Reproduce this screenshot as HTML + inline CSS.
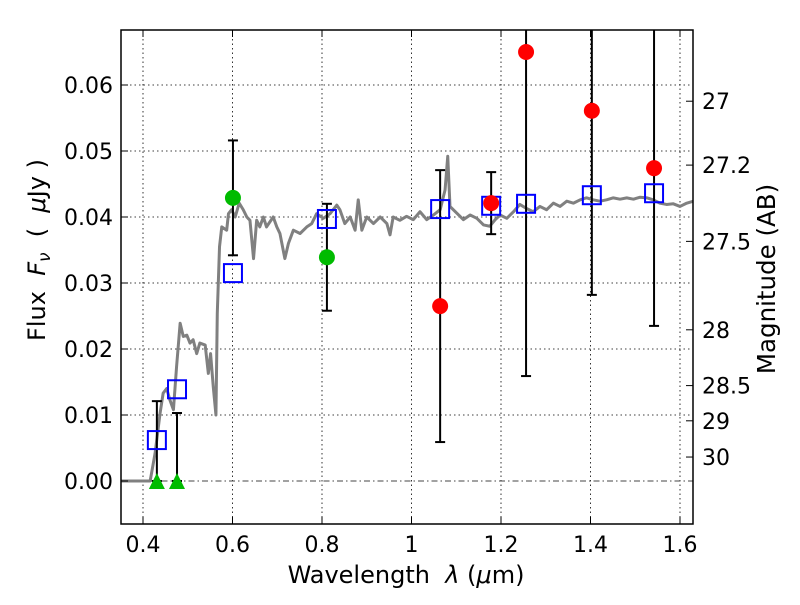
<!DOCTYPE html>
<html><head><meta charset="utf-8"><style>
body{margin:0;background:#fff;width:800px;height:600px;overflow:hidden}
svg text{font-family:"DejaVu Sans","Liberation Sans",sans-serif;fill:#000;white-space:pre}
</style></head><body>
<svg id="chart" width="800" height="600" xmlns="http://www.w3.org/2000/svg">
<defs><clipPath id="pc"><rect x="121" y="30" width="572" height="494"/></clipPath></defs>
<g id="grid"></g>
<g id="marks" clip-path="url(#pc)"></g>
<rect x="121" y="30" width="572" height="494" fill="none" stroke="#000" stroke-width="1.5"/>
<g id="axes"></g>
<text x="406" y="583" font-size="24" text-anchor="middle">Wavelength  <tspan font-style="italic">λ</tspan> (<tspan font-style="italic">μ</tspan>m)</text>
<text transform="translate(45,250) rotate(-90)" font-size="24" text-anchor="middle">Flux  <tspan font-style="italic">F</tspan><tspan font-style="italic" font-size="17" dy="5">ν</tspan><tspan dy="-5">  (  </tspan><tspan font-style="italic">μ</tspan>Jy )</text>
<text transform="translate(775,279) rotate(-90)" font-size="24.5" text-anchor="middle">Magnitude (AB)</text>
</svg>
<script>
const xTicks=[0.4,0.6,0.8,1.0,1.2,1.4,1.6];
const xTickLabels=["0.4","0.6","0.8","1","1.2","1.4","1.6"];
const yTicks=[0,0.01,0.02,0.03,0.04,0.05,0.06];
const yTickLabels=["0.00","0.01","0.02","0.03","0.04","0.05","0.06"];
const magTicks=[27,27.2,27.5,28,28.5,29,30];
const magTickLabels=["27","27.2","27.5","28","28.5","29","30"];
const sedLambda=[0.349,0.416,0.427,0.438,0.445,0.453,0.460,0.468,0.475,0.483,0.490,0.498,0.505,0.512,0.520,0.527,0.539,0.546,0.551,0.557,0.563,0.566,0.571,0.576,0.587,0.591,0.598,0.606,0.615,0.624,0.632,0.639,0.647,0.654,0.661,0.669,0.676,0.691,0.699,0.706,0.717,0.725,0.736,0.751,0.766,0.777,0.788,0.803,0.818,0.833,0.840,0.851,0.863,0.874,0.881,0.889,0.900,0.915,0.930,0.945,0.952,0.959,0.974,0.989,1.004,1.019,1.034,1.049,1.064,1.075,1.081,1.086,1.101,1.116,1.131,1.146,1.161,1.175,1.187,1.198,1.213,1.228,1.242,1.257,1.272,1.287,1.302,1.317,1.332,1.347,1.362,1.377,1.391,1.406,1.421,1.436,1.451,1.466,1.481,1.496,1.511,1.526,1.540,1.555,1.570,1.585,1.600,1.615,1.630];
const sedFlux=[0,0,0.0042,0.0102,0.0133,0.0140,0.0123,0.0108,0.0173,0.0239,0.0219,0.0221,0.0209,0.0214,0.0193,0.0209,0.0206,0.0163,0.0193,0.0143,0.0100,0.0254,0.0355,0.0385,0.0380,0.0405,0.0411,0.0400,0.0421,0.0411,0.0400,0.0395,0.0337,0.0395,0.0385,0.0400,0.0385,0.0400,0.0385,0.0375,0.0337,0.0360,0.0380,0.0375,0.0385,0.0390,0.0405,0.0398,0.0405,0.0418,0.0411,0.0390,0.0400,0.0380,0.0426,0.0380,0.0400,0.0390,0.0400,0.0390,0.0373,0.0400,0.0395,0.0401,0.0396,0.0408,0.0396,0.0403,0.0411,0.0441,0.0492,0.0416,0.0406,0.0396,0.0403,0.0398,0.0388,0.0386,0.0396,0.0403,0.0398,0.0408,0.0419,0.0413,0.0408,0.0416,0.0411,0.0421,0.0416,0.0424,0.0421,0.0426,0.0429,0.0426,0.0424,0.0426,0.0429,0.0427,0.0429,0.0427,0.0430,0.0429,0.0426,0.0421,0.0419,0.0420,0.0416,0.0421,0.0424];
const bandLambda=[0.431,0.476,0.601,0.811,1.064,1.178,1.256,1.403,1.542];
const modelFlux=[0.0062,0.0139,0.0315,0.0397,0.0412,0.0417,0.0420,0.0433,0.0436];
const obsFlux=[0,0,0.0429,0.0339,0.0265,0.0421,0.0650,0.0561,0.0474];
const obsErr=[0.0121,0.0103,0.0087,0.0081,0.0206,0.0047,0.0491,0.0279,0.0239];
const obsKind=["limit","limit","green","green","red","red","red","red","red"];

const NS="http://www.w3.org/2000/svg";
const X=v=>143+(v-0.4)*447.5;
const Y=v=>481-v*6600;
const magToFlux=m=>Math.pow(10,(23.9-m)/2.5);
function mk(tag,attrs,parent){const e=document.createElementNS(NS,tag);for(const k in attrs)e.setAttribute(k,attrs[k]);parent.appendChild(e);return e;}
const grid=document.getElementById('grid'),marks=document.getElementById('marks'),axes=document.getElementById('axes');
xTicks.forEach((t,i)=>{
  const l=mk('line',{x1:X(t),x2:X(t),y1:30,y2:524,stroke:'#000','stroke-width':0.8,'stroke-dasharray':'1.5,3'},grid);
  
  
  mk('line',{x1:X(t),x2:X(t),y1:524,y2:517,stroke:'#000'},axes);
  mk('line',{x1:X(t),x2:X(t),y1:30,y2:37,stroke:'#000'},axes);
  const tx=mk('text',{x:X(t),y:552,'font-size':22,'text-anchor':'middle'},axes);
  tx.textContent=xTickLabels[i];
  
  
});
yTicks.forEach((t,i)=>{
  const l=mk('line',{x1:121,x2:693,y1:Y(t),y2:Y(t),stroke:'#000','stroke-width':0.8,'stroke-dasharray':'1.5,3'},grid);
  
  
  mk('line',{x1:121,x2:128,y1:Y(t),y2:Y(t),stroke:'#000'},axes);
  const tx=mk('text',{x:113,y:Y(t)+8,'font-size':22,'text-anchor':'end'},axes);
  tx.textContent=yTickLabels[i];
  
  
});
magTicks.forEach((m,i)=>{
  const y=Y(magToFlux(m));
  mk('line',{x1:686,x2:693,y1:y,y2:y,stroke:'#000'},axes);
  const tx=mk('text',{x:702,y:y+8,'font-size':22},axes);
  tx.textContent=magTickLabels[i];
  
  
});
const zl=mk('line',{x1:121,x2:693,y1:Y(0),y2:Y(0),stroke:'#444','stroke-width':1,'stroke-dasharray':'6,3,1.5,3'},marks);


const sed=mk('polyline',{points:sedLambda.map((l,i)=>X(l)+','+Y(sedFlux[i])).join(' '),fill:'none',stroke:'#808080','stroke-width':3,'stroke-linejoin':'round'},marks);


bandLambda.forEach((l,i)=>{
  const x=X(l),y=Y(obsFlux[i]),y1=Y(obsFlux[i]+obsErr[i]),y2=Y(Math.max(obsFlux[i]-obsErr[i],obsKind[i]==='limit'?0:-1));
  const g=mk('g',{},marks);
  
  
  mk('line',{x1:x,x2:x,y1:y1,y2:y2,stroke:'#000','stroke-width':2},g);
  mk('line',{x1:x-5,x2:x+5,y1:y1,y2:y1,stroke:'#000','stroke-width':2},g);
  mk('line',{x1:x-5,x2:x+5,y1:y2,y2:y2,stroke:'#000','stroke-width':2},g);
});
bandLambda.forEach((l,i)=>{
  const x=X(l),y=Y(modelFlux[i]);
  const r=mk('rect',{x:x-9,y:y-9,width:18,height:18,fill:'none',stroke:'#0000ff','stroke-width':2},marks);
  
  
});
bandLambda.forEach((l,i)=>{
  const x=X(l),y=Y(obsFlux[i]);let e;
  if(obsKind[i]==='limit'){e=mk('polygon',{points:`${x-8},${y+8} ${x+8},${y+8} ${x},${y-8}`,fill:'#00bb00'},marks);}
  else{e=mk('circle',{cx:x,cy:y,r:8,fill:obsKind[i]==='green'?'#00bb00':'#ff0000'},marks);}
  
  
});
</script>
</body></html>
